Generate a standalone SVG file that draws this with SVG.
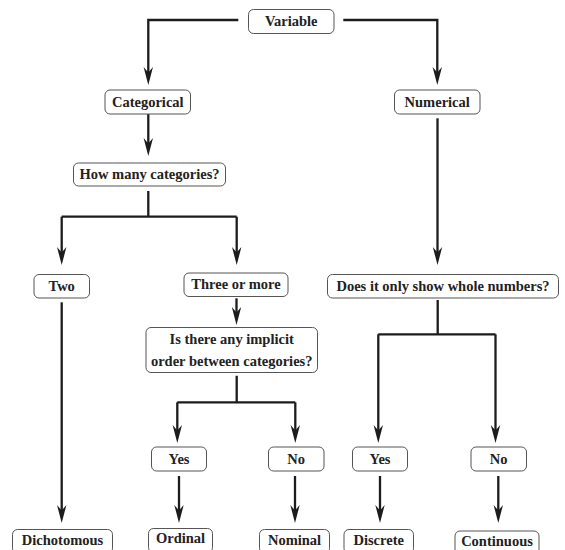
<svg xmlns="http://www.w3.org/2000/svg" width="565" height="550" viewBox="0 0 565 550">
<defs>
<style>
.box rect{fill:#fff;stroke:#555;stroke-width:1}
.box text{font-family:"Liberation Serif","Times New Roman",serif;font-weight:bold;font-size:14.5px;fill:#222;text-anchor:middle}
.conn path{fill:none;stroke:#1c1c1c;stroke-width:2.3}
</style>
<marker id="ah" markerUnits="userSpaceOnUse" viewBox="0 0 18 10" markerWidth="18" markerHeight="10" refX="10" refY="5" orient="auto">
<path d="M18,5 L0,0.3 L5.5,5 L0,9.7 Z" fill="#1c1c1c" stroke="none"/>
</marker>
</defs>
<rect width="565" height="550" fill="#fff"/>
<g id="connectors" class="conn">
<path marker-end="url(#ah)" d="M238.3,20 H148.3 V77"/>
<path marker-end="url(#ah)" d="M343.3,20 H437.3 V77"/>
<path marker-end="url(#ah)" d="M148.3,114 V148"/>
<path d="M148.3,191 V216.7 M61.7,216.7 H236.7"/>
<path marker-end="url(#ah)" d="M61.7,216.7 V257"/>
<path marker-end="url(#ah)" d="M236.7,216.7 V257"/>
<path marker-end="url(#ah)" d="M437.5,118.3 V257"/>
<path marker-end="url(#ah)" d="M236.5,298.3 V317"/>
<path marker-end="url(#ah)" d="M61.7,302.3 V515"/>
<path d="M236.7,375.7 V402.3 M177.3,402.3 H295.3"/>
<path marker-end="url(#ah)" d="M177.3,402.3 V435"/>
<path marker-end="url(#ah)" d="M295.3,402.3 V435"/>
<path d="M437.7,300 V334.3 M378.3,334.3 H495.5"/>
<path marker-end="url(#ah)" d="M378.3,334.3 V435"/>
<path marker-end="url(#ah)" d="M495.5,334.3 V435"/>
<path marker-end="url(#ah)" d="M179,476 V515"/>
<path marker-end="url(#ah)" d="M295,476 V515"/>
<path marker-end="url(#ah)" d="M380,476 V515"/>
<path marker-end="url(#ah)" d="M498.3,476 V515"/>
</g>
<g id="variable" class="box"><rect x="248.5" y="9.5" width="85.5" height="24" rx="5"/><text x="291.2" y="26">Variable</text></g>
<g id="categorical" class="box"><rect x="105" y="90" width="85.5" height="24" rx="5"/><text x="147.8" y="106.5">Categorical</text></g>
<g id="numerical" class="box"><rect x="394.5" y="90" width="85.5" height="24" rx="5"/><text x="437.2" y="106.5">Numerical</text></g>
<g id="how-many" class="box"><rect x="73.5" y="163" width="152" height="23" rx="5"/><text x="149.5" y="179">How many categories?</text></g>
<g id="two" class="box"><rect x="34" y="274.5" width="55.5" height="23.5" rx="5"/><text x="61.7" y="290.7">Two</text></g>
<g id="three-or-more" class="box"><rect x="184" y="273" width="104" height="23.5" rx="5"/><text x="236" y="289.2">Three or more</text></g>
<g id="whole-numbers" class="box"><rect x="327.5" y="274.5" width="231" height="23.5" rx="5"/><text x="443" y="290.7">Does it only show whole numbers?</text></g>
<g id="implicit-order" class="box"><rect x="146" y="327.5" width="171.5" height="45" rx="5"/><text x="231.7" y="343.5">Is there any implicit</text><text x="231.7" y="365.5">order between categories?</text></g>
<g id="yes-1" class="box"><rect x="151.5" y="447" width="55" height="24" rx="5"/><text x="179" y="463.5">Yes</text></g>
<g id="no-1" class="box"><rect x="268.5" y="447" width="55.5" height="24" rx="5"/><text x="296.2" y="463.5">No</text></g>
<g id="yes-2" class="box"><rect x="352.5" y="447" width="55" height="24" rx="5"/><text x="380" y="463.5">Yes</text></g>
<g id="no-2" class="box"><rect x="471" y="447" width="55.5" height="24" rx="5"/><text x="498.7" y="463.5">No</text></g>
<g id="dichotomous" class="box"><rect x="12.5" y="529.5" width="100" height="24" rx="5"/><text x="62.5" y="544.5">Dichotomous</text></g>
<g id="ordinal" class="box"><rect x="148.5" y="528.5" width="64" height="24" rx="5"/><text x="180.5" y="543">Ordinal</text></g>
<g id="nominal" class="box"><rect x="259.5" y="529.5" width="70" height="24" rx="5"/><text x="294.5" y="544.5">Nominal</text></g>
<g id="discrete" class="box"><rect x="344" y="529.5" width="69.5" height="24" rx="5"/><text x="378.7" y="544.5">Discrete</text></g>
<g id="continuous" class="box"><rect x="455" y="531" width="84" height="24" rx="5"/><text x="497" y="546">Continuous</text></g>
</svg>
